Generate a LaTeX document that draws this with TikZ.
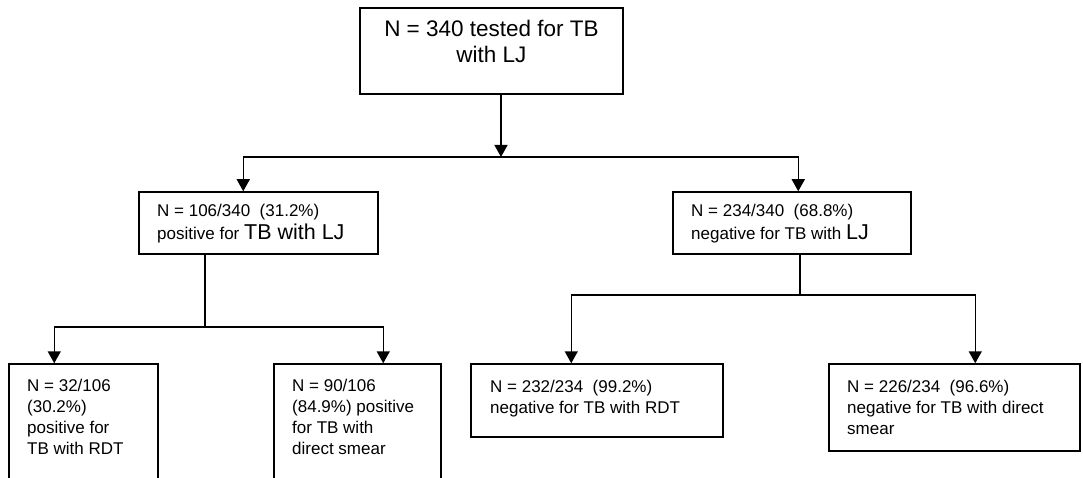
\documentclass[tikz,border=0pt]{standalone}
\usepackage{fontspec}
\setmainfont{Liberation Sans}
\usetikzlibrary{arrows.meta}

\newcommand{\bodyfont}{\fontsize{17}{21}\selectfont}
\newcommand{\bigfont}{\fontsize{21.5}{25}\selectfont}
\newcommand{\headfont}{\fontsize{22.5}{26}\selectfont}

\tikzset{
  frame/.style={draw=black, line width=1.5pt, inner sep=0pt, fill=white},
  label/.style={inner sep=0pt, anchor=base west, text=black, font=\bodyfont},
  link/.style={draw=black, line width=1.5pt},
  arr/.style={link, -{Triangle[width=13pt,length=12pt]}}
}

\begin{document}
\begin{tikzpicture}[x=1pt, y=-1pt]
  \useasboundingbox (0,0) rectangle (1083,478);
  \fill[white] (0,0) rectangle (1083,478);
  \clip (0,0) rectangle (1083,478);

  % boxes
  \node[frame, minimum width=263pt, minimum height=86pt] (top) at (491.5,51) {};
  \node[frame, minimum width=239pt, minimum height=62pt] (midL) at (258.5,223) {};
  \node[frame, minimum width=238pt, minimum height=62pt] (midR) at (792,223) {};
  \node[frame, minimum width=149pt, minimum height=160pt] (b1) at (83.5,444) {};
  \node[frame, minimum width=167pt, minimum height=160pt] (b2) at (357.5,444) {};
  \node[frame, minimum width=252pt, minimum height=73pt] (b3) at (597,400.5) {};
  \node[frame, minimum width=251pt, minimum height=87pt] (b4) at (954.5,407.5) {};

  % texts
  \node[inner sep=0pt, anchor=base, font=\headfont] (ttop) at (491.5,37)
    {\begin{tabular}[t]{@{}c@{}}N = 340 tested for TB\\ with LJ\end{tabular}};
  \node[label] (tmidL) at (157,217)
    {\begin{tabular}[t]{@{}l@{}}N = 106/340~ (31.2\%)\\[1pt] positive for {\bigfont TB with LJ}\end{tabular}};
  \node[label] (tmidR) at (691,217)
    {\begin{tabular}[t]{@{}l@{}}N = 234/340~ (68.8\%)\\[1pt] negative for TB with {\bigfont LJ}\end{tabular}};
  \node[label] (tb1) at (27,391)
    {\begin{tabular}[t]{@{}l@{}}N = 32/106\\ (30.2\%)\\ positive for\\ TB with RDT\end{tabular}};
  \node[label] (tb2) at (292,391)
    {\begin{tabular}[t]{@{}l@{}}N = 90/106\\ (84.9\%) positive\\ for TB with\\ direct smear\end{tabular}};
  \node[label] (tb3) at (490,392)
    {\begin{tabular}[t]{@{}l@{}}N = 232/234~ (99.2\%)\\ negative for TB with RDT\end{tabular}};
  \node[label] (tb4) at (847,392)
    {\begin{tabular}[t]{@{}l@{}}N = 226/234~ (96.6\%)\\ negative for TB with direct\\ smear\end{tabular}};

  % junction points
  \coordinate (j1) at (501,157);
  \coordinate (jL) at (205,327);
  \coordinate (jR) at (800,295);

  % first split
  \draw[arr] (top.south -| j1) -- (j1);
  \draw[arr] (j1) -| ([xshift=105pt]midL.north west);
  \draw[arr] (j1) -| ([xshift=126pt]midR.north west);

  % positive branch
  \draw[link] (midL.south -| jL) -- (jL);
  \draw[arr] (jL) -| ([xshift=46pt]b1.north west);
  \draw[arr] (jL) -| ([xshift=110pt]b2.north west);

  % negative branch
  \draw[link] (midR.south -| jR) -- (jR);
  \draw[arr] (jR) -| ([xshift=101pt]b3.north west);
  \draw[arr] (jR) -| ([xshift=147pt]b4.north west);
\end{tikzpicture}
\end{document}
